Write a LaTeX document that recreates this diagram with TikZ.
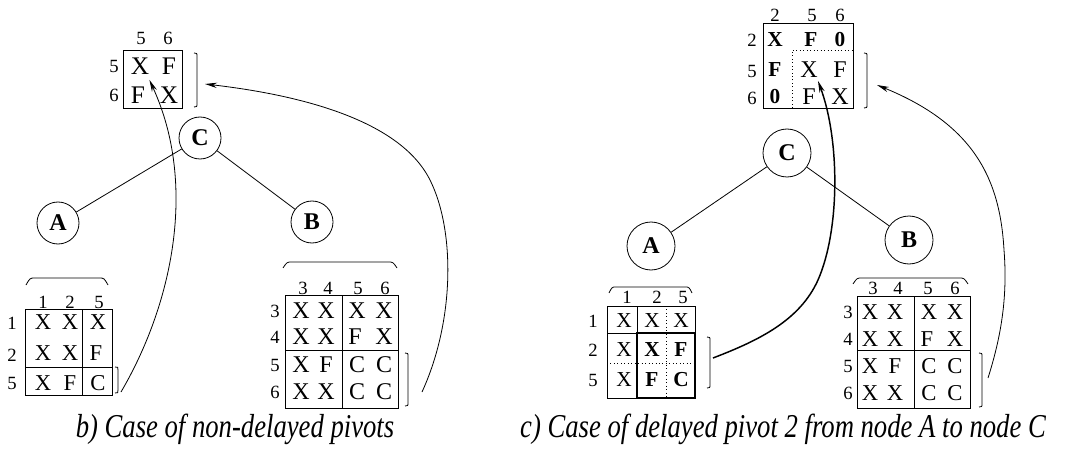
\documentclass[tikz,border=0pt]{standalone}
\usepackage{fontspec}
\setmainfont{Liberation Serif}
\usetikzlibrary{arrows,arrows.meta,positioning}
\newcommand{\fsz}[1]{\fontsize{#1}{#1}\selectfont}

\begin{document}
\begin{tikzpicture}[x=0.75pt,y=-0.75pt]
  \tikzstyle{ent}=[inner sep=0pt, font=\fsz{18}]
  \tikzstyle{idx}=[inner sep=0pt, font=\fsz{14}]
  \tikzstyle{tnode}=[circle, draw, line width=0.6pt, inner sep=0pt, font=\bfseries\fsz{18}]
  \tikzstyle{grid}=[line width=0.6pt]
  \tikzstyle{dotgrid}=[dotted, line width=0.6pt]
  \tikzstyle{link}=[line width=0.6pt, -{Stealth[length=9pt,width=4pt]}]
  \tikzstyle{captext}=[inner sep=0pt, anchor=base, font=\itshape\fsz{25}]
  \useasboundingbox (0,0) rectangle (1067,449);

  % b) top matrix
  \node[idx] (tlc5) at (141,38) {5};
  \node[idx] (tlc6) at (168,38) {6};
  \node[idx] (tlr5) at (114,66) {5};
  \node[idx] (tlr6) at (114,95) {6};
  \draw[grid] (123,50) rectangle (182,108);
  \node[ent, font=\fsz{19}] (tl55) at (140,66) {X};
  \node[ent, font=\fsz{19}] (tl56) at (169,66) {F};
  \node[ent, font=\fsz{19}] (tl65) at (138,95) {F};
  \node[ent, font=\fsz{19}] (tl66) at (169,95) {X};
  \draw[grid] (194,53) .. controls (197,53) .. (197,57) -- (197,103) .. controls (197,107) .. (194,107);
  \coordinate (tlTip) at (205,84);

  % b) tree
  \node[tnode, minimum size=31.5pt] (lC) at (200,138) {C};
  \node[tnode, minimum size=31.5pt] (lA) at (58,223) {A};
  \node[tnode, minimum size=31.5pt] (lB) at (312,222) {B};
  \draw[grid] (lC) -- (lA);
  \draw[grid] (lC) -- (lB);

  % b) front of A
  \draw[grid] (26,285) .. controls (30,278) .. (35,278) -- (99,278) .. controls (104,278) .. (108,285);
  \node[idx] (lac1) at (43,302) {1};
  \node[idx] (lac2) at (70,302) {2};
  \node[idx] (lac5) at (99,302) {5};
  \node[idx] (lar1) at (12,323) {1};
  \node[idx] (lar2) at (12,355) {2};
  \node[idx] (lar5) at (12,383) {5};
  \draw[grid] (25,309) rectangle (112,395);
  \draw[grid] (82,309) -- (82,395);
  \draw[grid] (25,367) -- (112,367);
  \node[ent, font=\fsz{17}] (la11) at (43,322) {X};
  \node[ent, font=\fsz{17}] (la12) at (70,322) {X};
  \node[ent, font=\fsz{17}] (la13) at (98,322) {X};
  \node[ent, font=\fsz{17}] (la21) at (43,353) {X};
  \node[ent, font=\fsz{17}] (la22) at (70,353) {X};
  \node[ent, font=\fsz{17}] (la23) at (96,353) {F};
  \node[ent, font=\fsz{17}] (la31) at (43,383) {X};
  \node[ent, font=\fsz{17}] (la32) at (70,383) {F};
  \node[ent, font=\fsz{17}] (la33) at (98,383) {C};
  \draw[grid] (115,367) .. controls (118,367) .. (118,370) -- (118,390) .. controls (118,393) .. (115,393);
  \coordinate (laSrc) at (121,392);

  % b) front of B
  \draw[grid] (283,268) .. controls (287,262) .. (292,262) -- (388,262) .. controls (393,262) .. (397,268);
  \node[idx] (lbc3) at (303,288) {3};
  \node[idx] (lbc4) at (328,288) {4};
  \node[idx] (lbc5) at (358,288) {5};
  \node[idx] (lbc6) at (385,288) {6};
  \node[idx] (lbr3) at (275,311) {3};
  \node[idx] (lbr4) at (275,337) {4};
  \node[idx] (lbr5) at (275,365) {5};
  \node[idx] (lbr6) at (275,392) {6};
  \draw[grid] (285,295) rectangle (398,408);
  \draw[grid] (342,295) -- (342,408);
  \draw[grid] (285,350) -- (398,350);
  \node[ent] (lb11) at (301,311) {X}; \node[ent] (lb12) at (326,311) {X};
  \node[ent] (lb13) at (357,311) {X}; \node[ent] (lb14) at (384,311) {X};
  \node[ent] (lb21) at (301,337) {X}; \node[ent] (lb22) at (326,337) {X};
  \node[ent] (lb23) at (355,337) {F}; \node[ent] (lb24) at (384,337) {X};
  \node[ent] (lb31) at (301,365) {X}; \node[ent] (lb32) at (326,365) {F};
  \node[ent] (lb33) at (357,365) {C}; \node[ent] (lb34) at (384,365) {C};
  \node[ent] (lb41) at (301,392) {X}; \node[ent] (lb42) at (326,392) {X};
  \node[ent] (lb43) at (357,392) {C}; \node[ent] (lb44) at (384,392) {C};
  \draw[grid] (405,353) .. controls (408,353) .. (408,357) -- (408,402) .. controls (408,406) .. (405,406);
  \coordinate (lbSrc) at (422,392);

  % b) update links
  \draw[link] (laSrc) .. controls (172,305) and (198,185) .. ([yshift=-4pt]tl55.south east);
  \draw[link] (lbSrc) .. controls (455,320) and (455,230) .. (430,180) .. controls (400,120) and (300,95) .. (tlTip);

  % c) top matrix
  \node[idx] (rtc2) at (775,15) {2};
  \node[idx] (rtc5) at (812,15) {5};
  \node[idx] (rtc6) at (840,15) {6};
  \node[idx] (rtr2) at (752,40) {2};
  \node[idx] (rtr5) at (752,71) {5};
  \node[idx] (rtr6) at (752,98) {6};
  \draw[grid] (763,23) rectangle (853,108);
  \draw[dotgrid] (792,108) -- (792,50) -- (853,50);
  \node[ent, font=\bfseries\fsz{16}] (rt22) at (775,40) {X};
  \node[ent, font=\bfseries\fsz{16}] (rt25) at (811,40) {F};
  \node[ent, font=\bfseries\fsz{16}] (rt26) at (840,40) {0};
  \node[ent, font=\bfseries\fsz{16}] (rt52) at (775,70) {F};
  \node[ent] (rt55) at (809,70) {X};
  \node[ent] (rt56) at (840,70) {F};
  \node[ent, font=\bfseries\fsz{16}] (rt62) at (775,97) {0};
  \node[ent] (rt65) at (809,97) {F};
  \node[ent] (rt66) at (840,97) {X};
  \draw[grid] (864,53) .. controls (867,53) .. (867,57) -- (867,104) .. controls (867,108) .. (864,108);
  \coordinate (rtTip) at (877,85);

  % c) tree
  \node[tnode, minimum size=36pt] (rC) at (787,153) {C};
  \node[tnode, minimum size=36pt] (rA) at (651,246) {A};
  \node[tnode, minimum size=36pt] (rB) at (909,240) {B};
  \draw[grid] (rC) -- (rA);
  \draw[grid] (rC) -- (rB);

  % c) front of A
  \draw[grid] (609,293) .. controls (612,287) .. (616,287) -- (685,287) .. controls (689,287) .. (692,293);
  \node[idx] (rac1) at (627,297) {1};
  \node[idx] (rac2) at (657,297) {2};
  \node[idx] (rac5) at (683,297) {5};
  \node[idx] (rar1) at (593,321) {1};
  \node[idx] (rar2) at (593,350) {2};
  \node[idx] (rar5) at (593,380) {5};
  \draw[grid] (607,306) rectangle (695,398);
  \draw[grid] (637,306) -- (637,333);
  \draw[grid] (607,333) -- (695,333);
  \draw[dotgrid] (666,306) -- (666,398);
  \draw[dotgrid] (607,363) -- (695,363);
  \draw[line width=2pt] (637,333) rectangle (695,398);
  \node[ent, font=\fsz{16}] (ra11) at (624,321) {X};
  \node[ent, font=\fsz{16}] (ra12) at (652,321) {X};
  \node[ent, font=\fsz{16}] (ra13) at (681,321) {X};
  \node[ent, font=\fsz{16}] (ra21) at (624,350) {X};
  \node[ent, font=\bfseries\fsz{16}] (ra22) at (652,350) {X};
  \node[ent, font=\bfseries\fsz{16}] (ra23) at (681,350) {F};
  \node[ent, font=\fsz{16}] (ra31) at (624,380) {X};
  \node[ent, font=\bfseries\fsz{16}] (ra32) at (652,380) {F};
  \node[ent, font=\bfseries\fsz{16}] (ra33) at (681,380) {C};
  \draw[grid] (707,337) .. controls (710,337) .. (710,341) -- (710,384) .. controls (710,388) .. (707,388);
  \coordinate (raSrc) at (713,358);

  % c) front of B
  \draw[grid] (853,284) .. controls (857,278) .. (862,278) -- (959,278) .. controls (964,278) .. (968,284);
  \node[idx] (rbc3) at (873,288) {3};
  \node[idx] (rbc4) at (898,288) {4};
  \node[idx] (rbc5) at (928,288) {5};
  \node[idx] (rbc6) at (955,288) {6};
  \node[idx] (rbr3) at (848,312) {3};
  \node[idx] (rbr4) at (848,339) {4};
  \node[idx] (rbr5) at (848,366) {5};
  \node[idx] (rbr6) at (848,393) {6};
  \draw[grid] (857,296) rectangle (970,408);
  \draw[grid] (914,296) -- (914,408);
  \draw[grid] (857,350) -- (970,350);
  \node[ent, font=\fsz{17}] (rb11) at (870,312) {X}; \node[ent, font=\fsz{17}] (rb12) at (895,312) {X};
  \node[ent, font=\fsz{17}] (rb13) at (929,312) {X}; \node[ent, font=\fsz{17}] (rb14) at (955,312) {X};
  \node[ent, font=\fsz{17}] (rb21) at (870,339) {X}; \node[ent, font=\fsz{17}] (rb22) at (895,339) {X};
  \node[ent, font=\fsz{17}] (rb23) at (927,339) {F}; \node[ent, font=\fsz{17}] (rb24) at (955,339) {X};
  \node[ent, font=\fsz{17}] (rb31) at (870,366) {X}; \node[ent, font=\fsz{17}] (rb32) at (895,366) {F};
  \node[ent, font=\fsz{17}] (rb33) at (929,366) {C}; \node[ent, font=\fsz{17}] (rb34) at (955,366) {C};
  \node[ent, font=\fsz{17}] (rb41) at (870,393) {X}; \node[ent, font=\fsz{17}] (rb42) at (895,393) {X};
  \node[ent, font=\fsz{17}] (rb43) at (929,393) {C}; \node[ent, font=\fsz{17}] (rb44) at (955,393) {C};
  \draw[grid] (979,353) .. controls (982,353) .. (982,357) -- (982,403) .. controls (982,407) .. (979,407);
  \coordinate (rbSrc) at (988,378);

  % c) update links
  \draw[link, line width=1.1pt] (raSrc) .. controls (760,340) and (800,320) .. (818,280) .. controls (840,230) and (840,140) .. ([yshift=-2pt]rt55.south east);
  \draw[link] (rbSrc) .. controls (1000,340) and (1008,300) .. (1004,250) .. controls (1000,180) and (975,125) .. (rtTip);

  % captions
  \node[captext] (capb) at (235,437) {\scalebox{0.8}[1]{b) Case of non-delayed pivots}};
  \node[captext] (capc) at (783,437) {\scalebox{0.8}[1]{c) Case of delayed pivot 2 from node A to node C}};
\end{tikzpicture}
\end{document}
